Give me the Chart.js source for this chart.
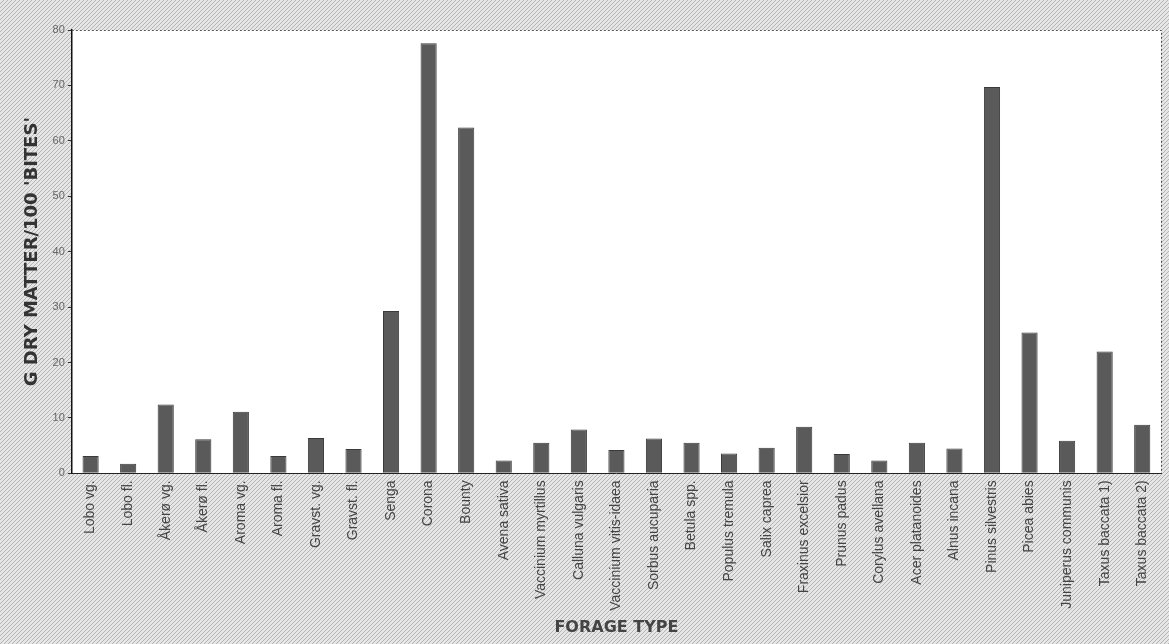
<!DOCTYPE html>
<html>
<head>
<meta charset="utf-8">
<script src="https://cdn.jsdelivr.net/npm/chart.js@4.4.1/dist/chart.umd.min.js"></script>
<style>
  html, body { margin: 0; padding: 0; background: #e4e4e4; }
  #wrap { width: 1169px; height: 644px; position: relative; }
</style>
</head>
<body>
<div id="wrap"><canvas id="c" width="1169" height="644"></canvas></div>
<script>
const categories = [
  "Lobo vg.", "Lobo fl.", "Åkerø vg.", "Åkerø fl.", "Aroma vg.", "Aroma fl.",
  "Gravst. vg.", "Gravst. fl.", "Senga", "Corona", "Bounty", "Avena sativa",
  "Vaccinium myrtillus", "Calluna vulgaris", "Vaccinium vitis-idaea", "Sorbus aucuparia",
  "Betula spp.", "Populus tremula", "Salix caprea", "Fraxinus excelsior", "Prunus padus",
  "Corylus avellana", "Acer platanoides", "Alnus incana", "Pinus silvestris", "Picea abies",
  "Juniperus communis", "Taxus baccata 1)", "Taxus baccata 2)"
];
const dryMatter = [
  3.15, 1.75, 12.4, 6.15, 11.1, 3.15,
  6.4, 4.4, 29.3, 77.6, 62.4, 2.3,
  5.5, 7.9, 4.2, 6.3,
  5.5, 3.6, 4.6, 8.4, 3.5,
  2.3, 5.5, 4.5, 69.7, 25.4,
  5.9, 22.0, 8.75
];
const yTicks = [0, 10, 20, 30, 40, 50, 60, 70, 80];
const yTitle = "G DRY MATTER/100 'BITES'";
const xTitle = "FORAGE TYPE";

function makeHatch(bg, line) {
  const p = document.createElement('canvas');
  p.width = 4; p.height = 4;
  const g = p.getContext('2d');
  g.fillStyle = bg; g.fillRect(0, 0, 4, 4);
  g.fillStyle = line;
  g.fillRect(0, 3, 1, 1); g.fillRect(1, 2, 1, 1); g.fillRect(2, 1, 1, 1); g.fillRect(3, 0, 1, 1);
  return p;
}

const bgPlugin = {
  id: 'bg',
  beforeDraw(chart) {
    const ctx = chart.ctx, a = chart.chartArea;
    ctx.save();
    ctx.fillStyle = ctx.createPattern(makeHatch('#e6e6e6', '#b4b4b4'), 'repeat');
    ctx.fillRect(0, 0, chart.width, chart.height);
    ctx.fillStyle = '#ffffff';
    ctx.fillRect(a.left, a.top, a.right - a.left, a.bottom - a.top);
    ctx.restore();
  },
  afterDraw(chart) {
    const ctx = chart.ctx, a = chart.chartArea;
    ctx.save();
    ctx.strokeStyle = '#555';
    ctx.lineWidth = 1;
    ctx.setLineDash([2, 2]);
    ctx.beginPath();
    ctx.moveTo(a.left, a.top + 0.5);
    ctx.lineTo(a.right + 0.5, a.top + 0.5);
    ctx.lineTo(a.right + 0.5, a.bottom);
    ctx.stroke();
    ctx.restore();
  }
};

new Chart(document.getElementById('c'), {
  type: 'bar',
  data: {
    labels: categories,
    datasets: [{
      data: dryMatter,
      backgroundColor: '#5a5a5a',
      borderColor: '#3a3a3a',
      borderWidth: 1,
      barPercentage: 0.43,
      categoryPercentage: 1.0
    }]
  },
  plugins: [bgPlugin],
  options: {
    responsive: false,
    animation: false,
    devicePixelRatio: 1,
    layout: { padding: { left: 22, right: 8, top: 30, bottom: 7 } },
    plugins: { legend: { display: false }, tooltip: { enabled: false } },
    scales: {
      x: {
        grid: { display: false, drawTicks: false },
        border: { display: true, color: '#222', dash: [3, 2], width: 1 },
        ticks: {
          autoSkip: false, maxRotation: 90, minRotation: 90,
          color: '#444', padding: 7,
          font: { family: 'Liberation Sans, Arial, sans-serif', size: 14 }
        },
        title: {
          display: true, text: xTitle, color: '#444', padding: { top: 0, bottom: 0 },
          font: { family: 'DejaVu Sans, sans-serif', size: 16, weight: 'bold' }
        }
      },
      y: {
        min: 0, max: 80,
        afterBuildTicks(axis) { axis.ticks = yTicks.map(v => ({ value: v })); },
        grid: { display: true, drawOnChartArea: false, drawTicks: true, tickLength: 4, color: '#333' },
        border: { display: true, color: '#111', width: 1.5 },
        ticks: {
          color: '#666', padding: 3,
          font: { family: 'Liberation Sans, Arial, sans-serif', size: 11 }
        },
        title: {
          display: true, text: yTitle, color: '#333', padding: { top: 0, bottom: 6 },
          font: { family: 'DejaVu Sans, sans-serif', size: 18, weight: 'bold' }
        }
      }
    }
  }
});
</script>
</body>
</html>
